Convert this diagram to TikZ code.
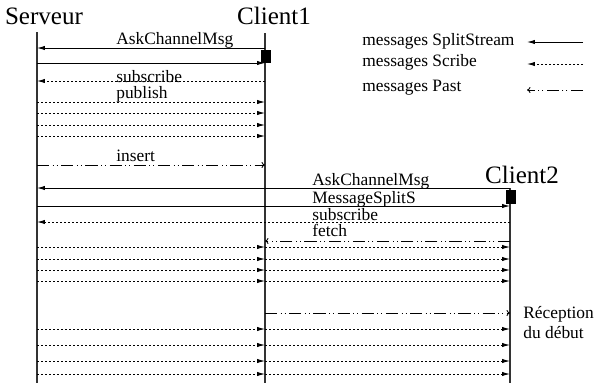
\documentclass[tikz,border=0pt]{standalone}
\usepackage{fontspec}
\setmainfont{Liberation Serif}
\usetikzlibrary{arrows.meta,positioning}

\begin{document}
\begin{tikzpicture}[
  x=0.575pt,y=-0.575pt,
  actor/.style={font=\fontsize{14.4}{16}\selectfont, inner sep=0pt, anchor=base},
  lbl/.style={font=\fontsize{10}{12}\selectfont, inner sep=0pt, anchor=base west},
  life/.style={line width=0.6pt, draw=black!80},
  split/.style={-{Latex[length=4.5pt,width=2.4pt]}, line width=0.5pt},
  scribe/.style={split, dash pattern=on 1.2pt off 1.1pt},
  past/.style={-{To[length=2pt,width=3.5pt]}, line width=0.5pt, dash pattern=on 7pt off 2pt on 0.6pt off 1.7pt on 0.6pt off 2pt},
  busy/.style={fill=black, inner sep=0pt, minimum width=5.8pt, minimum height=7.5pt}
]
\useasboundingbox (0,0) rectangle (600,385);

% acteurs et lignes de vie
\node[actor] (serveur) at (44,24) {Serveur};
\node[actor] (client1) at (274,24) {Client1};
\node[actor] (client2) at (522,183) {Client2};
\coordinate (srv) at (37,32);
\coordinate (c1) at (265,33);
\coordinate (c2) at (510,188);
\draw[life] (srv) -- (srv |- 0,383);
\draw[life] (c1) -- (c1 |- 0,383);
\draw[life] (c2) -- (c2 |- 0,383);

% legende
\node[lbl] (legsplit) at (362,45) {messages SplitStream};
\node[lbl] (legscribe) at (362,66) {messages Scribe};
\node[lbl] (legpast) at (362,91) {messages Past};
\coordinate (lsplit) at (583,42);
\coordinate (lscribe) at (583,64);
\coordinate (lpast) at (583,90);
\draw[split] (lsplit) -- ++(-56,0);
\draw[scribe] (lscribe) -- ++(-56,0);
\draw[past] (lpast) -- ++(-56,0);

% arrivee de Client1
\draw[split] (c1 |- 0,48) -- (srv |- 0,48);
\draw[split] (srv |- 0,63) -- (c1 |- 0,63);
\node[busy] (occ1) at (266,56.5) {};
\node[lbl] (ask1) at (116,44) {AskChannelMsg};
\draw[scribe] (c1 |- 0,81) -- (srv |- 0,81);
\node[lbl] (sub1) at (116,82) {subscribe};
\node[lbl] (pub1) at (116,98) {publish};
\foreach \y in {102,113,125,136}
  \draw[scribe] (srv |- 0,\y) -- (c1 |- 0,\y);
\draw[past] (srv |- 0,165) -- (c1 |- 0,165);
\node[lbl] (ins1) at (116,161) {insert};

% arrivee de Client2
\draw[split] (c2 |- 0,188) -- (srv |- 0,188);
\node[lbl] (ask2) at (312,185) {AskChannelMsg};
\draw[split] (srv |- 0,206) -- (c2 |- 0,206);
\node[busy] (occ2) at (511,197) {};
\node[lbl] (msg2) at (312,203) {MessageSplitS};
\draw[scribe] (c2 |- 0,222) -- (srv |- 0,222);
\node[lbl] (sub2) at (312,220) {subscribe};
\draw[past] (c2 |- 0,241) -- (c1 |- 0,241);
\node[lbl] (fetch) at (312,236) {fetch};
\foreach \y in {247,259,270,281,329,345,361,374} {
  \draw[scribe] (srv |- 0,\y) -- (c1 |- 0,\y);
  \draw[scribe] (c1 |- 0,\y) -- (c2 |- 0,\y);
}
\draw[past] (c1 |- 0,313) -- (c2 |- 0,313);
\node[lbl, align=left, anchor=north west, font=\fontsize{10}{11.5}\selectfont] (recep) at (523,306) {R\'eception\\du d\'ebut};
\end{tikzpicture}
\end{document}
